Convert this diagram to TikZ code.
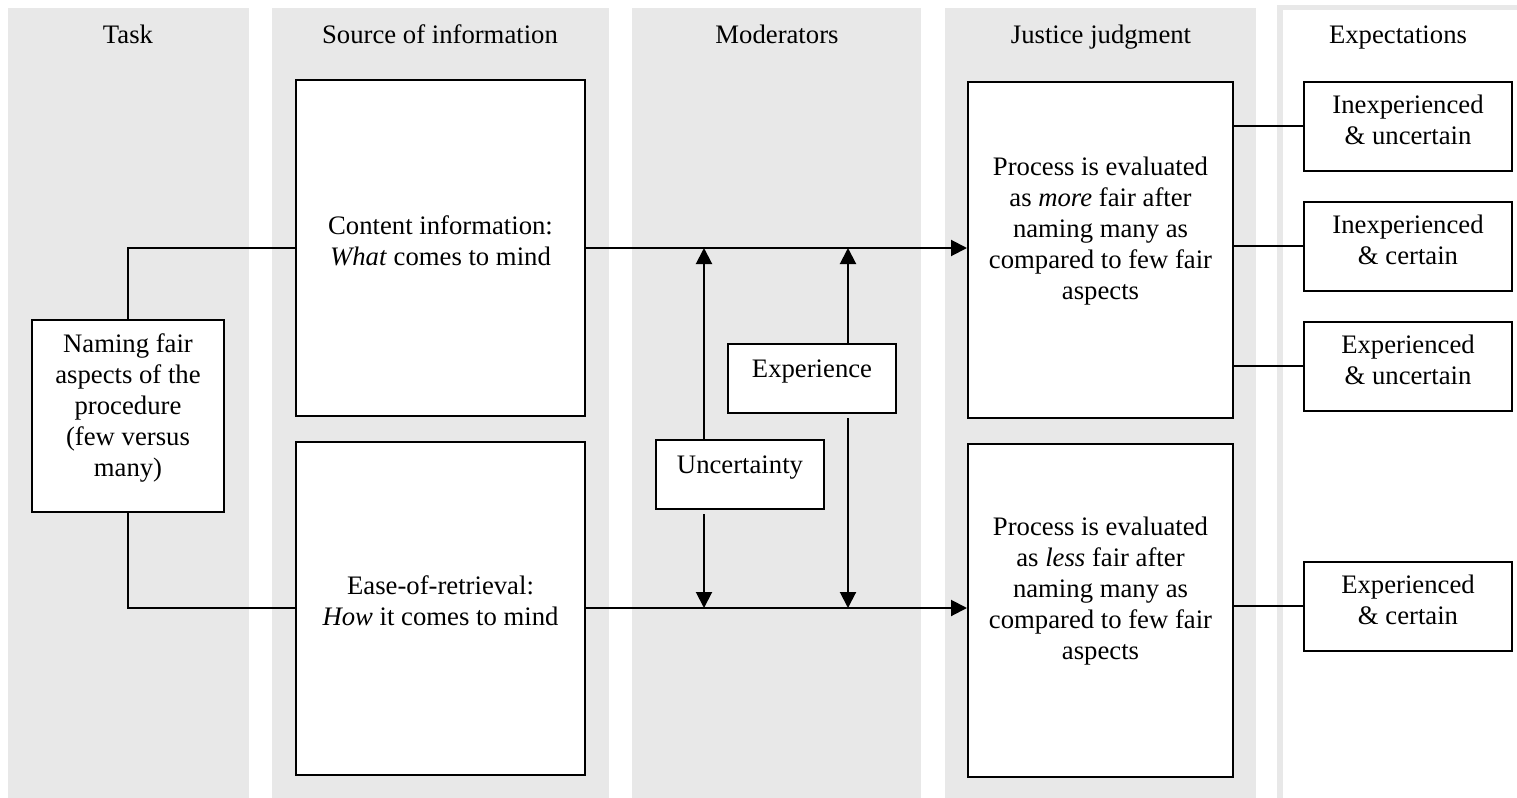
\documentclass[tikz,border=0pt]{standalone}
\usepackage{fontspec}
\setmainfont{Liberation Serif}
\usepackage{xcolor}
\usetikzlibrary{arrows.meta,positioning,calc}
\definecolor{bandcol}{HTML}{E8E8E8}

\begin{document}
\begin{tikzpicture}[x=0.5pt,y=-0.5pt,
  font=\fontsize{13.35}{15.5}\selectfont,
  head/.style={anchor=base},
  box/.style={draw,line width=1pt,fill=white,align=center,inner sep=0pt},
  link/.style={line width=1pt},
  arr/.style={line width=1pt,-{Triangle[width=8pt,length=8pt]}},
]
\useasboundingbox (0,0) rectangle (1517,798);
% column bands
\fill[bandcol] (8,8) rectangle (249,798);
\fill[bandcol] (272,8) rectangle (609,798);
\fill[bandcol] (632,8) rectangle (921,798);
\fill[bandcol] (945,8) rectangle (1256,798);
\fill[bandcol] (1277,5) rectangle (1517,798);
\fill[white] (1283,10) rectangle (1517,798);

\node[head] (htask) at (128,43) {Task};
\node[head] (hsrc) at (440,43) {Source of information};
\node[head] (hmod) at (777,43) {Moderators};
\node[head] (hjust) at (1101,43) {Justice judgment};
\node[head] (hexp) at (1398,43) {Expectations};

\node[box,minimum width=96pt,minimum height=96pt,text depth=11pt] (task) at (128,416)
  {Naming fair\\aspects of the\\procedure\\(few versus\\many)};
\node[box,minimum width=144.5pt,minimum height=168pt,text depth=7pt] (content) at (440.5,248)
  {Content information:\\\textit{What} comes to mind};
\node[box,minimum width=144.5pt,minimum height=166.5pt,text depth=7pt] (ease) at (440.5,608)
  {Ease-of-retrieval:\\\textit{How} it comes to mind};

\node[box,minimum width=84pt,minimum height=34.5pt,text depth=10pt] (unc) at (740,474.5) {Uncertainty};
\node[box,minimum width=84pt,minimum height=34.5pt,text depth=10pt] (exper) at (812,378.5) {Experience};

\node[box,minimum width=132.5pt,minimum height=168pt,text depth=22pt] (more) at (1100.5,250)
  {Process is evaluated\\as \textit{more} fair after\\naming many as\\compared to few fair\\aspects};
\node[box,minimum width=132.5pt,minimum height=166.5pt,text depth=22pt] (less) at (1100.5,610)
  {Process is evaluated\\as \textit{less} fair after\\naming many as\\compared to few fair\\aspects};

\node[box,minimum width=104pt,minimum height=44.5pt,text depth=6pt] (e1) at (1408,126) {Inexperienced\\\& uncertain};
\node[box,minimum width=104pt,minimum height=44.5pt,text depth=6pt] (e2) at (1408,246) {Inexperienced\\\& certain};
\node[box,minimum width=104pt,minimum height=44.5pt,text depth=6pt] (e3) at (1408,366) {Experienced\\\& uncertain};
\node[box,minimum width=104pt,minimum height=44.5pt,text depth=6pt] (e4) at (1408,606) {Experienced\\\& certain};

% connectors
\draw[link] (task.north) |- (content.west);
\draw[link] (task.south) |- (ease.west);
\draw[arr] (content.east) -- (content.east -| more.west);
\draw[arr] (ease.east) -- (ease.east -| less.west);

\draw[arr] ([xshift=-18pt]unc.north) -- ([xshift=-18pt]unc.north |- content.east);
\draw[arr,shorten <=2pt] ([xshift=-18pt]unc.south) -- ([xshift=-18pt]unc.south |- ease.east);
\draw[arr] ([xshift=18pt]exper.north) -- ([xshift=18pt]exper.north |- content.east);
\draw[arr,shorten <=2pt] ([xshift=18pt]exper.south) -- ([xshift=18pt]exper.south |- ease.east);

\draw[link] (more.east |- e1) -- (e1.west);
\draw[link] (more.east |- e2) -- (e2.west);
\draw[link] (more.east |- e3) -- (e3.west);
\draw[link] (less.east |- e4) -- (e4.west);
\end{tikzpicture}
\end{document}
